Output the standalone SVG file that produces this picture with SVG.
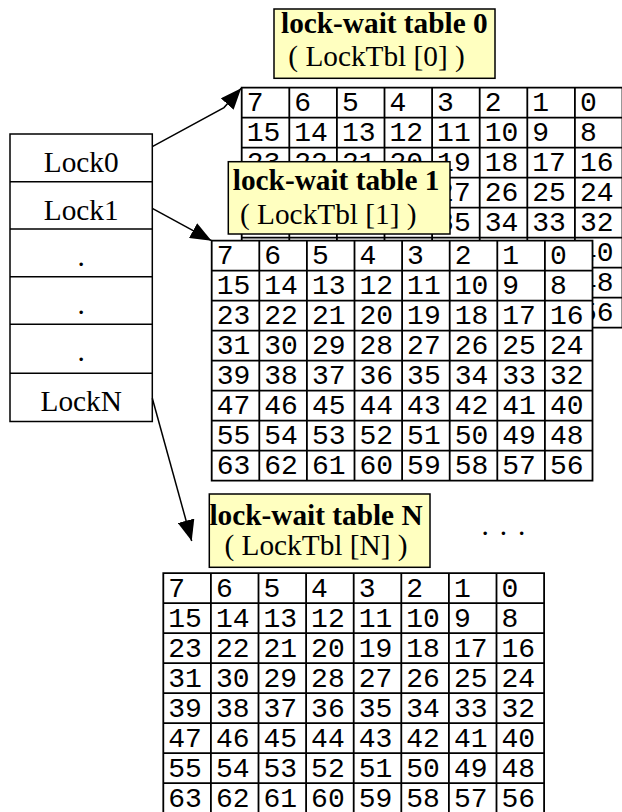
<svg xmlns="http://www.w3.org/2000/svg" width="622" height="812" viewBox="0 0 622 812">
<style>
.bg{fill:#fff}
.grid{fill:none;stroke:#000;stroke-width:1.8}
.c{font-family:"Liberation Mono","Courier New",monospace;font-size:28px;fill:#000}
.lbl{fill:#ffffc0;stroke:#000;stroke-width:1.5}
.tb{font-family:"Liberation Serif","Times New Roman",serif;font-size:29.3px;font-weight:bold;fill:#000}
.tr{font-family:"Liberation Serif","Times New Roman",serif;font-size:29.3px;fill:#000}
.box{fill:#fff;stroke:#000;stroke-width:1.5}
.edge{fill:none;stroke:#000;stroke-width:1.5}
</style>
<defs>
<marker id="ah" markerUnits="userSpaceOnUse" viewBox="0 0 21 17" refX="21" refY="8.5" markerWidth="21" markerHeight="17" orient="auto">
<path d="M0,0L21,8.5L0,17z" fill="#000"/>
</marker>
</defs>

<g id="lockArray">
<rect class="box" x="10" y="134" width="142.3" height="287.5"/>
<path class="edge" d="M10,181.7H152.3M10,229H152.3M10,276.7H152.3M10,324.3H152.3M10,373.3H152.3"/>
<text class="tr" x="81.2" y="171.7" text-anchor="middle">Lock0</text>
<text class="tr" x="81.2" y="220" text-anchor="middle">Lock1</text>
<text class="tr" x="81.2" y="266" text-anchor="middle">.</text>
<text class="tr" x="81.2" y="313.5" text-anchor="middle">.</text>
<text class="tr" x="81.2" y="361" text-anchor="middle">.</text>
<text class="tr" x="81.2" y="410.7" text-anchor="middle">LockN</text>
</g>

<g id="table0" transform="translate(241.7,87.7)">
<rect class="bg" x="0" y="0" width="380.8" height="240"/>
<path class="grid" d="M0,0H380.8V240H0Z M47.6,0V240 M95.2,0V240 M142.8,0V240 M190.4,0V240 M238,0V240 M285.6,0V240 M333.2,0V240 M0,30H380.8 M0,60H380.8 M0,90H380.8 M0,120H380.8 M0,150H380.8 M0,180H380.8 M0,210H380.8"/>
<text class="c" x="5" y="23.5">7</text><text class="c" x="52.6" y="23.5">6</text><text class="c" x="100.2" y="23.5">5</text><text class="c" x="147.8" y="23.5">4</text><text class="c" x="195.4" y="23.5">3</text><text class="c" x="243" y="23.5">2</text><text class="c" x="290.6" y="23.5">1</text><text class="c" x="338.2" y="23.5">0</text>
<text class="c" x="5" y="53.5">15</text><text class="c" x="52.6" y="53.5">14</text><text class="c" x="100.2" y="53.5">13</text><text class="c" x="147.8" y="53.5">12</text><text class="c" x="195.4" y="53.5">11</text><text class="c" x="243" y="53.5">10</text><text class="c" x="290.6" y="53.5">9</text><text class="c" x="338.2" y="53.5">8</text>
<text class="c" x="5" y="83.5">23</text><text class="c" x="52.6" y="83.5">22</text><text class="c" x="100.2" y="83.5">21</text><text class="c" x="147.8" y="83.5">20</text><text class="c" x="195.4" y="83.5">19</text><text class="c" x="243" y="83.5">18</text><text class="c" x="290.6" y="83.5">17</text><text class="c" x="338.2" y="83.5">16</text>
<text class="c" x="5" y="113.5">31</text><text class="c" x="52.6" y="113.5">30</text><text class="c" x="100.2" y="113.5">29</text><text class="c" x="147.8" y="113.5">28</text><text class="c" x="195.4" y="113.5">27</text><text class="c" x="243" y="113.5">26</text><text class="c" x="290.6" y="113.5">25</text><text class="c" x="338.2" y="113.5">24</text>
<text class="c" x="5" y="143.5">39</text><text class="c" x="52.6" y="143.5">38</text><text class="c" x="100.2" y="143.5">37</text><text class="c" x="147.8" y="143.5">36</text><text class="c" x="195.4" y="143.5">35</text><text class="c" x="243" y="143.5">34</text><text class="c" x="290.6" y="143.5">33</text><text class="c" x="338.2" y="143.5">32</text>
<text class="c" x="5" y="173.5">47</text><text class="c" x="52.6" y="173.5">46</text><text class="c" x="100.2" y="173.5">45</text><text class="c" x="147.8" y="173.5">44</text><text class="c" x="195.4" y="173.5">43</text><text class="c" x="243" y="173.5">42</text><text class="c" x="290.6" y="173.5">41</text><text class="c" x="338.2" y="173.5">40</text>
<text class="c" x="5" y="203.5">55</text><text class="c" x="52.6" y="203.5">54</text><text class="c" x="100.2" y="203.5">53</text><text class="c" x="147.8" y="203.5">52</text><text class="c" x="195.4" y="203.5">51</text><text class="c" x="243" y="203.5">50</text><text class="c" x="290.6" y="203.5">49</text><text class="c" x="338.2" y="203.5">48</text>
<text class="c" x="5" y="233.5">63</text><text class="c" x="52.6" y="233.5">62</text><text class="c" x="100.2" y="233.5">61</text><text class="c" x="147.8" y="233.5">60</text><text class="c" x="195.4" y="233.5">59</text><text class="c" x="243" y="233.5">58</text><text class="c" x="290.6" y="233.5">57</text><text class="c" x="338.2" y="233.5">56</text>
</g>

<g id="label0">
<rect class="lbl" x="274" y="9" width="221" height="69.3"/>
<text class="tb" x="281" y="33.3">lock-wait table 0</text>
<text class="tr" x="288.3" y="65.5">( LockTbl [0] )</text>
</g>

<g id="label1">
<rect class="lbl" x="228.3" y="161.7" width="221.7" height="72.3"/>
<text class="tb" x="232.8" y="190">lock-wait table 1</text>
<text class="tr" x="240" y="224">( LockTbl [1] )</text>
</g>

<g id="table1" transform="translate(211.7,240.7)">
<rect class="bg" x="0" y="0" width="380.8" height="240"/>
<path class="grid" d="M0,0H380.8V240H0Z M47.6,0V240 M95.2,0V240 M142.8,0V240 M190.4,0V240 M238,0V240 M285.6,0V240 M333.2,0V240 M0,30H380.8 M0,60H380.8 M0,90H380.8 M0,120H380.8 M0,150H380.8 M0,180H380.8 M0,210H380.8"/>
<text class="c" x="5" y="23.5">7</text><text class="c" x="52.6" y="23.5">6</text><text class="c" x="100.2" y="23.5">5</text><text class="c" x="147.8" y="23.5">4</text><text class="c" x="195.4" y="23.5">3</text><text class="c" x="243" y="23.5">2</text><text class="c" x="290.6" y="23.5">1</text><text class="c" x="338.2" y="23.5">0</text>
<text class="c" x="5" y="53.5">15</text><text class="c" x="52.6" y="53.5">14</text><text class="c" x="100.2" y="53.5">13</text><text class="c" x="147.8" y="53.5">12</text><text class="c" x="195.4" y="53.5">11</text><text class="c" x="243" y="53.5">10</text><text class="c" x="290.6" y="53.5">9</text><text class="c" x="338.2" y="53.5">8</text>
<text class="c" x="5" y="83.5">23</text><text class="c" x="52.6" y="83.5">22</text><text class="c" x="100.2" y="83.5">21</text><text class="c" x="147.8" y="83.5">20</text><text class="c" x="195.4" y="83.5">19</text><text class="c" x="243" y="83.5">18</text><text class="c" x="290.6" y="83.5">17</text><text class="c" x="338.2" y="83.5">16</text>
<text class="c" x="5" y="113.5">31</text><text class="c" x="52.6" y="113.5">30</text><text class="c" x="100.2" y="113.5">29</text><text class="c" x="147.8" y="113.5">28</text><text class="c" x="195.4" y="113.5">27</text><text class="c" x="243" y="113.5">26</text><text class="c" x="290.6" y="113.5">25</text><text class="c" x="338.2" y="113.5">24</text>
<text class="c" x="5" y="143.5">39</text><text class="c" x="52.6" y="143.5">38</text><text class="c" x="100.2" y="143.5">37</text><text class="c" x="147.8" y="143.5">36</text><text class="c" x="195.4" y="143.5">35</text><text class="c" x="243" y="143.5">34</text><text class="c" x="290.6" y="143.5">33</text><text class="c" x="338.2" y="143.5">32</text>
<text class="c" x="5" y="173.5">47</text><text class="c" x="52.6" y="173.5">46</text><text class="c" x="100.2" y="173.5">45</text><text class="c" x="147.8" y="173.5">44</text><text class="c" x="195.4" y="173.5">43</text><text class="c" x="243" y="173.5">42</text><text class="c" x="290.6" y="173.5">41</text><text class="c" x="338.2" y="173.5">40</text>
<text class="c" x="5" y="203.5">55</text><text class="c" x="52.6" y="203.5">54</text><text class="c" x="100.2" y="203.5">53</text><text class="c" x="147.8" y="203.5">52</text><text class="c" x="195.4" y="203.5">51</text><text class="c" x="243" y="203.5">50</text><text class="c" x="290.6" y="203.5">49</text><text class="c" x="338.2" y="203.5">48</text>
<text class="c" x="5" y="233.5">63</text><text class="c" x="52.6" y="233.5">62</text><text class="c" x="100.2" y="233.5">61</text><text class="c" x="147.8" y="233.5">60</text><text class="c" x="195.4" y="233.5">59</text><text class="c" x="243" y="233.5">58</text><text class="c" x="290.6" y="233.5">57</text><text class="c" x="338.2" y="233.5">56</text>
</g>

<g id="labelN">
<rect class="lbl" x="209.3" y="494" width="220.7" height="73.3"/>
<text class="tb" x="316" y="525" text-anchor="middle">lock-wait table N</text>
<text class="tr" x="316" y="555" text-anchor="middle">( LockTbl [N] )</text>
</g>

<g id="ellipsis">
<text class="tr" x="481.4" y="534.5" letter-spacing="11">...</text>
</g>

<g id="tableN" transform="translate(163.3,573.2)">
<rect class="bg" x="0" y="0" width="380.8" height="240"/>
<path class="grid" d="M0,0H380.8V240H0Z M47.6,0V240 M95.2,0V240 M142.8,0V240 M190.4,0V240 M238,0V240 M285.6,0V240 M333.2,0V240 M0,30H380.8 M0,60H380.8 M0,90H380.8 M0,120H380.8 M0,150H380.8 M0,180H380.8 M0,210H380.8"/>
<text class="c" x="5" y="23.5">7</text><text class="c" x="52.6" y="23.5">6</text><text class="c" x="100.2" y="23.5">5</text><text class="c" x="147.8" y="23.5">4</text><text class="c" x="195.4" y="23.5">3</text><text class="c" x="243" y="23.5">2</text><text class="c" x="290.6" y="23.5">1</text><text class="c" x="338.2" y="23.5">0</text>
<text class="c" x="5" y="53.5">15</text><text class="c" x="52.6" y="53.5">14</text><text class="c" x="100.2" y="53.5">13</text><text class="c" x="147.8" y="53.5">12</text><text class="c" x="195.4" y="53.5">11</text><text class="c" x="243" y="53.5">10</text><text class="c" x="290.6" y="53.5">9</text><text class="c" x="338.2" y="53.5">8</text>
<text class="c" x="5" y="83.5">23</text><text class="c" x="52.6" y="83.5">22</text><text class="c" x="100.2" y="83.5">21</text><text class="c" x="147.8" y="83.5">20</text><text class="c" x="195.4" y="83.5">19</text><text class="c" x="243" y="83.5">18</text><text class="c" x="290.6" y="83.5">17</text><text class="c" x="338.2" y="83.5">16</text>
<text class="c" x="5" y="113.5">31</text><text class="c" x="52.6" y="113.5">30</text><text class="c" x="100.2" y="113.5">29</text><text class="c" x="147.8" y="113.5">28</text><text class="c" x="195.4" y="113.5">27</text><text class="c" x="243" y="113.5">26</text><text class="c" x="290.6" y="113.5">25</text><text class="c" x="338.2" y="113.5">24</text>
<text class="c" x="5" y="143.5">39</text><text class="c" x="52.6" y="143.5">38</text><text class="c" x="100.2" y="143.5">37</text><text class="c" x="147.8" y="143.5">36</text><text class="c" x="195.4" y="143.5">35</text><text class="c" x="243" y="143.5">34</text><text class="c" x="290.6" y="143.5">33</text><text class="c" x="338.2" y="143.5">32</text>
<text class="c" x="5" y="173.5">47</text><text class="c" x="52.6" y="173.5">46</text><text class="c" x="100.2" y="173.5">45</text><text class="c" x="147.8" y="173.5">44</text><text class="c" x="195.4" y="173.5">43</text><text class="c" x="243" y="173.5">42</text><text class="c" x="290.6" y="173.5">41</text><text class="c" x="338.2" y="173.5">40</text>
<text class="c" x="5" y="203.5">55</text><text class="c" x="52.6" y="203.5">54</text><text class="c" x="100.2" y="203.5">53</text><text class="c" x="147.8" y="203.5">52</text><text class="c" x="195.4" y="203.5">51</text><text class="c" x="243" y="203.5">50</text><text class="c" x="290.6" y="203.5">49</text><text class="c" x="338.2" y="203.5">48</text>
<text class="c" x="5" y="233.5">63</text><text class="c" x="52.6" y="233.5">62</text><text class="c" x="100.2" y="233.5">61</text><text class="c" x="147.8" y="233.5">60</text><text class="c" x="195.4" y="233.5">59</text><text class="c" x="243" y="233.5">58</text><text class="c" x="290.6" y="233.5">57</text><text class="c" x="338.2" y="233.5">56</text>
</g>

<g id="connectors">
<path class="edge" d="M152.3,146.7L224,107.6L241.2,88.3" marker-end="url(#ah)"/>
<path class="edge" d="M152.3,208.3L211.5,240.7" marker-end="url(#ah)"/>
<path class="edge" d="M152.3,398.3L191.7,541" marker-end="url(#ah)"/>
</g>
</svg>
